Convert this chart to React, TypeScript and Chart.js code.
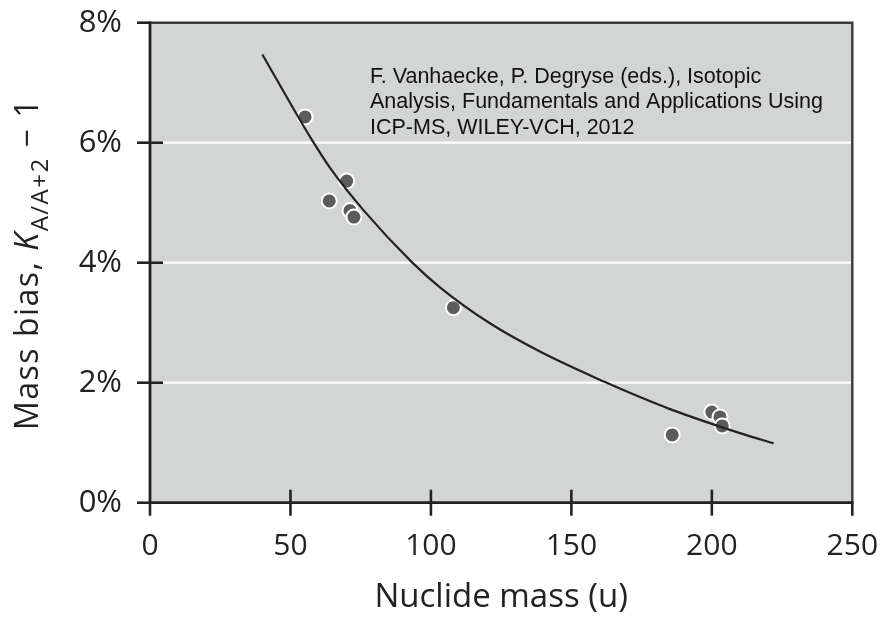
import React, { useEffect, useRef } from 'react';
import { Chart, registerables } from 'chart.js';

Chart.register(...registerables);

// Fitted curve
const fitMass = [40, 50.4, 57.2, 64.1, 75.9, 93.2, 103.2, 121, 138.8, 162, 174.4, 185.1, 210, 222];
const fitBias = [7.47, 6.62, 6.08, 5.58, 4.88, 4.01, 3.59, 2.99, 2.52, 2.01, 1.76, 1.56, 1.16, 0.99];

// Measured points
const pointMass = [55.2, 63.8, 70.0, 71.2, 72.6, 108.0, 185.9, 200.0, 202.9, 203.7];
const pointBias = [6.43, 5.03, 5.36, 4.87, 4.76, 3.25, 1.13, 1.51, 1.43, 1.28];

const xTicks = [0, 50, 100, 150, 200, 250];
const yTicks = [0, 2, 4, 6, 8];
const gridValues = [2, 4, 6];

const xTitle = 'Nuclide mass (u)';
const yTitleMain = 'Mass bias, ';
const yTitleSymbol = 'K';
const yTitleSub = 'A/A+2';
const yTitleTail = ' \u2212 1';
const noteLines = [
  'F. Vanhaecke, P. Degryse (eds.), Isotopic',
  'Analysis, Fundamentals and Applications Using',
  'ICP-MS, WILEY-VCH, 2012',
];

const FONT = '"Open Sans", "Noto Sans", sans-serif';
const INK = '#222222';

const framePlugin = {
  id: 'framePlugin',
  beforeDatasetsDraw(chart: any) {
    const { ctx, chartArea: a, scales } = chart;
    ctx.save();
    ctx.fillStyle = '#d3d4d4';
    ctx.fillRect(a.left, a.top, a.right - a.left, a.bottom - a.top);
    ctx.strokeStyle = '#ffffff';
    ctx.lineWidth = 2.2;
    gridValues.forEach((v) => {
      const y = scales.y.getPixelForValue(v);
      ctx.beginPath();
      ctx.moveTo(a.left, y);
      ctx.lineTo(a.right, y);
      ctx.stroke();
    });
    ctx.restore();
  },
  afterDraw(chart: any) {
    const { ctx, chartArea: a, scales } = chart;
    ctx.save();
    // frame
    ctx.lineCap = 'butt';
    ctx.strokeStyle = '#3a3a3a';
    ctx.lineWidth = 2.4;
    ctx.beginPath();
    ctx.moveTo(a.left, a.top);
    ctx.lineTo(a.right, a.top);
    ctx.lineTo(a.right, a.bottom);
    ctx.stroke();
    ctx.strokeStyle = INK;
    ctx.lineWidth = 2.8;
    ctx.beginPath();
    ctx.moveTo(a.left, a.top - 1.2);
    ctx.lineTo(a.left, a.bottom);
    ctx.lineTo(a.right + 1.2, a.bottom);
    ctx.stroke();

    // ticks
    const tl = 13;
    ctx.lineWidth = 2.6;
    yTicks.forEach((v) => {
      const y = scales.y.getPixelForValue(v);
      const inner = v > 0 && v < 8 ? tl : 0;
      ctx.beginPath();
      ctx.moveTo(a.left - tl, y);
      ctx.lineTo(a.left + inner, y);
      ctx.stroke();
    });
    xTicks.forEach((v) => {
      const x = scales.x.getPixelForValue(v);
      const inner = v > 0 && v < 250 ? tl : 0;
      ctx.beginPath();
      ctx.moveTo(x, a.bottom + tl);
      ctx.lineTo(x, a.bottom - inner);
      ctx.stroke();
    });

    // x title
    ctx.fillStyle = INK;
    ctx.font = `33px ${FONT}`;
    ctx.textAlign = 'center';
    ctx.textBaseline = 'alphabetic';
    ctx.fillText(xTitle, (a.left + a.right) / 2, 607);

    // y title (rotated, with subscript)
    (ctx as any).letterSpacing = '1.5px';
    const parts = [
      { text: yTitleMain, font: `32px ${FONT}`, dy: 0 },
      { text: yTitleSymbol, font: `italic 32px ${FONT}`, dy: 0 },
      { text: yTitleSub, font: `24px ${FONT}`, dy: 10 },
      { text: yTitleTail, font: `32px ${FONT}`, dy: 0 },
    ];
    let total = 0;
    const widths = parts.map((p) => {
      ctx.font = p.font;
      const w = ctx.measureText(p.text).width;
      total += w;
      return w;
    });
    ctx.translate(37.5, 264);
    ctx.rotate(-Math.PI / 2);
    ctx.textAlign = 'left';
    let x = -total / 2;
    parts.forEach((p, i) => {
      ctx.font = p.font;
      ctx.fillText(p.text, x, p.dy);
      x += widths[i];
    });
    ctx.setTransform(1, 0, 0, 1, 0, 0);
    (ctx as any).letterSpacing = '0px';

    // note
    ctx.font = '21.5px "Liberation Sans", Arial, sans-serif';
    ctx.fillStyle = '#111111';
    ctx.textAlign = 'left';
    ctx.textBaseline = 'alphabetic';
    noteLines.forEach((line, i) => {
      ctx.fillText(line, 370, 82.7 + i * 25.6);
    });
    ctx.restore();
  },
};

export default function App() {
  const ref = useRef<HTMLCanvasElement | null>(null);

  useEffect(() => {
    if (!ref.current) return;
    const chart = new Chart(ref.current, {
      type: 'scatter',
      data: {
        datasets: [
          {
            type: 'line',
            label: 'fit',
            data: fitMass.map((m, i) => ({ x: m, y: fitBias[i] })),
            borderColor: INK,
            borderWidth: 2.2,
            pointRadius: 0,
            fill: false,
            cubicInterpolationMode: 'monotone',
          } as any,
          {
            label: 'measured',
            data: pointMass.map((m, i) => ({ x: m, y: pointBias[i] })),
            backgroundColor: '#5c5c5c',
            borderColor: '#ffffff',
            borderWidth: 2,
            pointRadius: 7.5,
          },
        ],
      },
      options: {
        responsive: false,
        animation: false,
        layout: { padding: { top: 22.7, right: 33.7, left: 0, bottom: 0 } },
        plugins: {
          legend: { display: false },
          tooltip: { enabled: false },
        },
        scales: {
          x: {
            type: 'linear',
            min: 0,
            max: 250,
            afterBuildTicks: (s: any) => {
              s.ticks = xTicks.map((v) => ({ value: v }));
            },
            afterFit: (s: any) => {
              s.height = 116.3;
              s.paddingLeft = 0;
              s.paddingRight = 0;
            },
            grid: { display: false, drawTicks: false },
            border: { display: false },
            ticks: {
              font: { family: FONT, size: 30 },
              color: INK,
              padding: 25.5,
              maxRotation: 0,
            },
          },
          y: {
            type: 'linear',
            min: 0,
            max: 8,
            afterBuildTicks: (s: any) => {
              s.ticks = yTicks.map((v) => ({ value: v }));
            },
            afterFit: (s: any) => {
              s.width = 150;
              s.paddingTop = 0;
              s.paddingBottom = 0;
            },
            grid: { display: false, drawTicks: false },
            border: { display: false },
            ticks: {
              font: { family: FONT, size: 31 },
              color: INK,
              padding: 28,
              callback: (v: any) => `${v}%`,
            },
          },
        },
      },
      plugins: [framePlugin],
    });
    return () => chart.destroy();
  }, []);

  return (
    <div style={{ position: 'absolute', left: 0, top: 0, width: 886, height: 619, background: '#ffffff' }}>
      <canvas ref={ref} width={886} height={619} style={{ display: 'block' }} />
    </div>
  );
}
